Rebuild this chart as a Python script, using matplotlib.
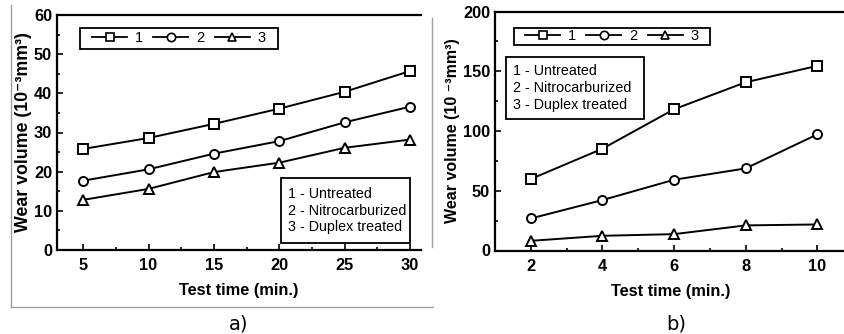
import numpy as np
import matplotlib.pyplot as plt
from matplotlib.lines import Line2D
from matplotlib.patches import Rectangle
from matplotlib.ticker import MultipleLocator

plt.rcParams['font.family'] = ['Liberation Sans', 'DejaVu Sans']

# panel a) wear volume (10^-3 mm^3) vs test time (min.)
time_a = [5, 10, 15, 20, 25, 30]
untreated_a = [25.8, 28.6, 32.2, 36.1, 40.4, 45.7]
nitro_a = [17.7, 20.6, 24.6, 27.8, 32.6, 36.6]
duplex_a = [12.8, 15.6, 19.9, 22.3, 26.1, 28.2]

# panel b)
time_b = [2, 4, 6, 8, 10]
untreated_b = [59.8, 85.2, 118.2, 140.8, 154.5]
nitro_b = [26.8, 42.2, 59.2, 68.7, 97.2]
duplex_b = [8.1, 12.3, 13.7, 21.0, 21.8]

series_labels = ['1', '2', '3']
markers = ['s', 'o', '^']
legend_text = "1 - Untreated\n2 - Nitrocarburized\n3 - Duplex treated"

W, H = 845, 334
fig = plt.figure(figsize=(W / 100, H / 100), dpi=100)


def px_axes(l, r, b, t):
    return [l / W, 1 - b / H, (r - l) / W, (b - t) / H]


def style_axes(ax, xmaj, xmin, ymaj, ymin):
    ax.xaxis.set_major_locator(MultipleLocator(xmaj))
    ax.xaxis.set_minor_locator(MultipleLocator(xmin))
    ax.yaxis.set_major_locator(MultipleLocator(ymaj))
    ax.yaxis.set_minor_locator(MultipleLocator(ymin))
    ax.tick_params(which='both', direction='in', width=1.2)
    ax.tick_params(which='major', length=4.5)
    ax.tick_params(which='minor', length=2.5)
    ax.tick_params(axis='x', pad=6)
    ax.tick_params(axis='y', pad=3.5)
    for lab in ax.get_xticklabels() + ax.get_yticklabels():
        lab.set_fontweight('bold')
        lab.set_fontsize(11.8)
    for s in ['left', 'bottom', 'top']:
        ax.spines[s].set_linewidth(1.6)
    ax.spines['right'].set_visible(False)
    ax.set_xlabel('Test time (min.)', fontsize=11.8, fontweight='bold', labelpad=7)


def draw_series(ax, x, ys):
    for y, m in zip(ys, markers):
        ax.plot(x, y, color='black', lw=1.4, marker=m, ms=6.5 if m != '^' else 7,
                mfc='white', mec='black', mew=1.4, clip_on=False, zorder=3)


def top_legend(ax, box, fs):
    x0, y0, x1, y1 = box
    ax.add_patch(Rectangle((x0, y0), x1 - x0, y1 - y0, transform=ax.transAxes,
                           fill=False, ec='black', lw=1.3, zorder=4))
    handles = [Line2D([], [], color='black', lw=1.3, marker=m, ms=6, mfc='white',
                      mec='black', mew=1.2) for m in markers]
    ax.legend(handles, series_labels, loc='center',
              bbox_to_anchor=((x0 + x1) / 2, (y0 + y1) / 2), ncol=3, frameon=False,
              handlelength=2.4, handletextpad=0.55, columnspacing=0.7,
              borderpad=0, fontsize=fs)


def text_legend(ax, box):
    x0, y0, x1, y1 = box
    ax.add_patch(Rectangle((x0, y0), x1 - x0, y1 - y0, transform=ax.transAxes,
                           fill=False, ec='black', lw=1.3, zorder=4))
    ax.text(x0 + 0.02, (y0 + y1) / 2, legend_text, transform=ax.transAxes,
            ha='left', va='center', fontsize=10.3, linespacing=1.25)


# ---- panel a)
ax1 = fig.add_axes(px_axes(57, 421, 250, 15))
draw_series(ax1, time_a, [untreated_a, nitro_a, duplex_a])
ax1.set_xlim(3, 30.83)
ax1.set_ylim(0, 60)
style_axes(ax1, 5, 2.5, 10, 5)
ax1.set_ylabel('Wear volume (10\u207b\u00b3mm\u00b3)', fontsize=12.8, fontweight='bold', labelpad=1)
top_legend(ax1, (0.063, 0.855, 0.607, 0.945), 10.5)
text_legend(ax1, (0.615, 0.030, 0.970, 0.306))

# ---- panel b)
ax2 = fig.add_axes(px_axes(495, 846, 250.5, 11.5))
draw_series(ax2, time_b, [untreated_b, nitro_b, duplex_b])
ax2.set_xlim(1, 10.8)
ax2.set_ylim(0, 200)
style_axes(ax2, 2, 1, 50, 25)
ax2.set_ylabel('Wear volume (10 \u207b\u00b3mm\u00b3)', fontsize=11.5, fontweight='bold', labelpad=2)
top_legend(ax2, (0.054, 0.860, 0.613, 0.931), 10.5)
text_legend(ax2, (0.031, 0.550, 0.425, 0.810))

# thin frame left over from the composite image
frame = dict(color='#a0a0a0', lw=1.0, transform=fig.transFigure)
fig.add_artist(Line2D([11 / W, 11 / W], [1 - 5 / H, 1 - 307 / H], **frame))
fig.add_artist(Line2D([11 / W, 433 / W], [1 - 307 / H, 1 - 307 / H], **frame))
fig.add_artist(Line2D([432 / W, 432 / W], [1 - 18 / H, 1 - 247 / H], **frame))

fig.text(239 / W, 1 - 324 / H, 'a)', ha='center', va='center', fontsize=14,
         family='DejaVu Sans')
fig.text(676 / W, 1 - 324 / H, 'b)', ha='center', va='center', fontsize=14,
         family='DejaVu Sans')

fig.savefig('out.png', dpi=100)
